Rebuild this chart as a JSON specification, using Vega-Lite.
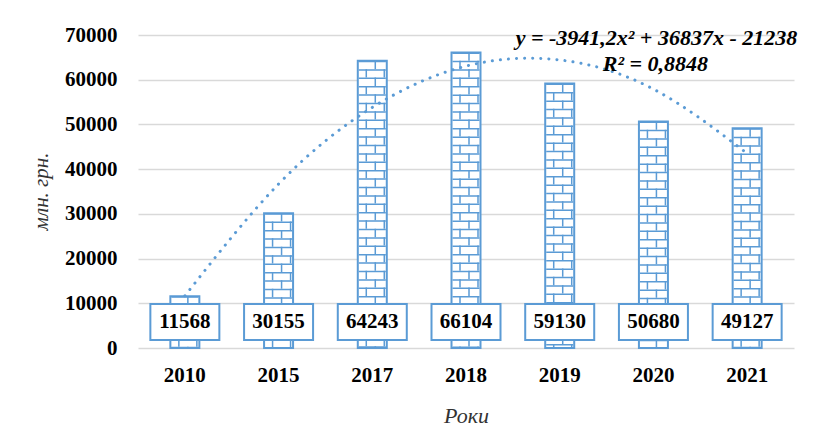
{
  "$schema": "https://vega.github.io/schema/vega-lite/v6.json",
  "width": 656,
  "height": 313,
  "autosize": {"type": "none"},
  "padding": {"left": 138, "top": 35, "right": 23, "bottom": 82},
  "background": "white",
  "config": {"view": {"stroke": null}, "font": "Liberation Serif"},
  "data": {
    "values": [
      {"year": "2010", "value": 11568, "trend": 11658},
      {"year": "2015", "value": 30155, "trend": 36671},
      {"year": "2017", "value": 64243, "trend": 53802},
      {"year": "2018", "value": 66104, "trend": 63051},
      {"year": "2019", "value": 59130, "trend": 64417},
      {"year": "2020", "value": 50680, "trend": 57901},
      {"year": "2021", "value": 49127, "trend": 43502}
    ]
  },
  "encoding": {
    "x": {
      "field": "year",
      "type": "nominal",
      "sort": null,
      "scale": {"paddingInner": 0, "paddingOuter": 0},
      "axis": {
        "title": "Роки",
        "labelAngle": 0,
        "domain": false,
        "ticks": false,
        "grid": false,
        "labelFont": "Liberation Serif",
        "labelFontSize": 21,
        "labelFontWeight": "bold",
        "labelColor": "black",
        "labelPadding": 16,
        "titleFont": "Liberation Serif",
        "titleFontStyle": "italic",
        "titleFontWeight": "normal",
        "titleFontSize": 22,
        "titleColor": "#333333",
        "titleY": 67,
        "titleBaseline": "middle"
      }
    }
  },
  "layer": [
    {
      "mark": {"type": "bar", "width": 29, "fill": "white", "stroke": "#5B9BD5", "strokeWidth": 2},
      "encoding": {
        "y": {
          "field": "value",
          "type": "quantitative",
          "scale": {"domain": [0, 70000], "nice": false},
          "axis": {
            "title": "млн. грн.",
            "values": [0, 10000, 20000, 30000, 40000, 50000, 60000, 70000],
            "grid": true,
            "gridColor": "#d9d9d9",
            "gridWidth": 1.5,
            "domain": false,
            "ticks": false,
            "labelFont": "Liberation Serif",
            "labelFontSize": 21,
            "labelFontWeight": "bold",
            "labelColor": "black",
            "labelPadding": 21,
            "format": "d",
            "titleFont": "Liberation Serif",
            "titleFontStyle": "italic",
            "titleFontWeight": "normal",
            "titleFontSize": 21,
            "titleColor": "#333333",
            "titleX": -97,
            "titleY": 156,
            "titleAngle": -90,
            "titleBaseline": "middle"
          }
        }
      }
    },
    {
      "mark": {"type": "rule", "strokeWidth": 27, "strokeDash": [1.5, 6.9], "color": "#5B9BD5", "strokeCap": "butt"},
      "encoding": {
        "y": {"field": "value", "type": "quantitative"},
        "y2": {"datum": 0}
      }
    },
    {
      "mark": {"type": "rule", "strokeWidth": 1.5, "strokeDash": [8.4, 8.4], "color": "#5B9BD5", "strokeCap": "butt", "xOffset": 3},
      "encoding": {
        "y": {"field": "value", "type": "quantitative"},
        "y2": {"datum": 0}
      }
    },
    {
      "mark": {"type": "rule", "strokeWidth": 1.5, "strokeDash": [8.4, 8.4], "strokeDashOffset": 8.4, "color": "#5B9BD5", "strokeCap": "butt", "xOffset": -6},
      "encoding": {
        "y": {"field": "value", "type": "quantitative"},
        "y2": {"datum": 0}
      }
    },
    {
      "mark": {"type": "rule", "strokeWidth": 1.5, "strokeDash": [8.4, 8.4], "strokeDashOffset": 8.4, "color": "#5B9BD5", "strokeCap": "butt", "xOffset": 12},
      "encoding": {
        "y": {"field": "value", "type": "quantitative"},
        "y2": {"datum": 0}
      }
    },
    {
      "mark": {"type": "line", "interpolate": "natural", "strokeDash": [0.1, 8], "strokeCap": "round", "strokeWidth": 3, "color": "#5B9BD5"},
      "encoding": {
        "y": {"field": "trend", "type": "quantitative"}
      }
    },
    {
      "mark": {"type": "bar", "width": 69, "fill": "white", "stroke": "#5B9BD5", "strokeWidth": 2},
      "encoding": {
        "y": {"datum": 1790, "type": "quantitative"},
        "y2": {"datum": 9840}
      }
    },
    {
      "mark": {"type": "text", "font": "Liberation Serif", "fontSize": 21, "fontWeight": "bold", "baseline": "middle", "align": "center", "color": "black"},
      "encoding": {
        "y": {"datum": 5800, "type": "quantitative"},
        "text": {"field": "value", "type": "quantitative", "format": "d"}
      }
    },
    {
      "data": {"values": [{"label": "y = -3941,2x² + 36837x - 21238"}]},
      "mark": {"type": "text", "font": "Liberation Serif", "fontSize": 22, "fontWeight": "bold", "fontStyle": "italic", "baseline": "middle", "align": "center", "color": "black", "dx": 3},
      "encoding": {
        "x": {"datum": "2020"},
        "y": {"datum": 69300, "type": "quantitative"},
        "text": {"field": "label", "type": "nominal"}
      }
    },
    {
      "data": {"values": [{"label": "R² = 0,8848"}]},
      "mark": {"type": "text", "font": "Liberation Serif", "fontSize": 22, "fontWeight": "bold", "fontStyle": "italic", "baseline": "middle", "align": "center", "color": "black", "dx": 2},
      "encoding": {
        "x": {"datum": "2020"},
        "y": {"datum": 63500, "type": "quantitative"},
        "text": {"field": "label", "type": "nominal"}
      }
    }
  ]
}
